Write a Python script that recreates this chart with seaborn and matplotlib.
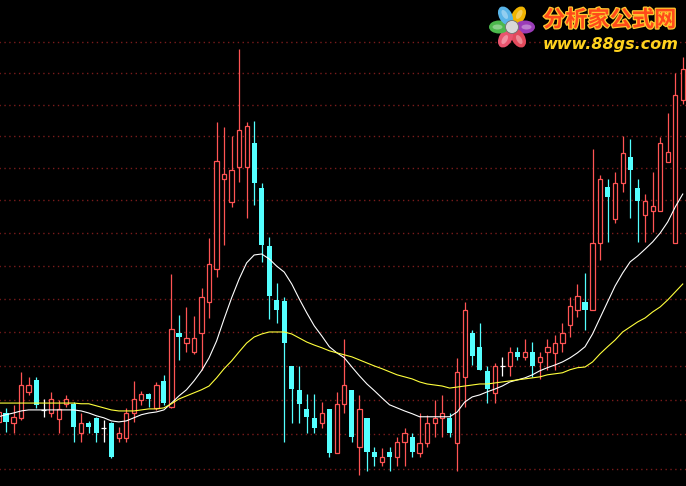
import numpy as np
import pandas as pd
import matplotlib
matplotlib.use("Agg")
import matplotlib.pyplot as plt
import matplotlib.patheffects as pe
from matplotlib.patches import Ellipse, Circle
import seaborn as sns

# daily bars (open / high / low / close)
opens = [109.36, 109.62, 109.33, 109.48, 110.24, 110.59, 109.71, 109.62, 109.45, 109.89,
         109.89, 109.04, 109.33, 109.48, 109.19, 109.33, 108.90, 108.90, 109.62, 110.00,
         110.18, 109.77, 110.56, 109.80, 111.98, 111.68, 111.42, 111.98, 112.91, 113.90,
         116.67, 115.95, 117.04, 117.04, 117.79, 116.39, 114.61, 112.97, 112.94, 111.00,
         110.30, 109.74, 109.48, 109.33, 109.74, 108.46, 109.89, 110.30, 108.64, 109.48,
         108.49, 108.20, 108.49, 108.35, 108.78, 108.93, 108.46, 108.75, 109.33, 109.48,
         109.48, 108.75, 110.68, 111.98, 111.57, 110.86, 110.21, 111.00, 111.00, 111.42,
         111.27, 111.42, 111.12, 111.42, 111.39, 111.68, 112.22, 112.67, 112.91, 112.67,
         114.70, 116.42, 115.43, 116.54, 117.35, 116.39, 115.56, 115.68, 115.68, 117.20,
         114.70, 119.15]
highs = [109.71, 109.77, 109.86, 110.83, 110.68, 110.68, 110.03, 110.24, 110.00, 110.15,
         109.94, 109.62, 109.39, 109.51, 109.42, 109.36, 109.22, 109.77, 110.56, 110.27,
         110.21, 110.53, 110.74, 113.75, 112.52, 112.76, 112.49, 113.33, 114.85, 118.45,
         118.29, 118.01, 120.77, 118.45, 118.48, 116.54, 114.88, 113.48, 113.06, 111.00,
         111.00, 110.18, 110.18, 109.94, 109.74, 110.24, 111.80, 110.30, 110.15, 109.48,
         108.64, 108.61, 108.64, 108.93, 109.19, 109.04, 109.62, 109.57, 110.00, 110.15,
         109.62, 111.24, 112.91, 112.07, 112.28, 111.00, 111.09, 111.27, 111.57, 111.57,
         111.80, 111.71, 111.42, 111.80, 111.92, 112.28, 113.06, 113.45, 113.78, 117.60,
         116.79, 116.67, 116.89, 118.01, 117.91, 116.67, 116.20, 116.89, 117.97, 118.74,
         120.00, 120.52]
lows = [109.28, 109.07, 109.04, 109.42, 110.15, 109.77, 109.51, 109.51, 109.04, 109.80,
        108.78, 108.78, 109.04, 108.78, 108.78, 108.32, 108.78, 108.78, 109.36, 109.86,
        109.80, 109.71, 109.86, 109.77, 111.18, 111.42, 111.36, 110.89, 112.43, 113.66,
        114.64, 115.80, 116.58, 115.46, 115.86, 114.12, 112.40, 112.28, 108.78, 109.33,
        109.33, 109.04, 109.04, 109.19, 108.35, 108.46, 109.62, 108.78, 107.83, 107.94,
        108.09, 108.09, 107.94, 108.09, 108.09, 108.35, 108.35, 108.64, 108.93, 108.93,
        108.93, 107.94, 109.80, 111.03, 110.89, 109.91, 109.91, 110.71, 110.71, 111.18,
        111.18, 110.68, 110.62, 110.89, 110.89, 111.42, 111.86, 112.46, 112.07, 112.67,
        114.18, 114.73, 115.31, 116.26, 115.46, 114.73, 114.73, 115.04, 115.68, 117.20,
        114.70, 119.02]
closes = [109.65, 109.36, 109.51, 110.44, 110.44, 109.86, 109.71, 110.03, 109.74, 110.03,
          109.22, 109.33, 109.22, 109.04, 109.19, 108.35, 109.04, 109.62, 110.03, 110.18,
          110.03, 110.44, 109.91, 112.10, 111.86, 111.83, 111.83, 113.06, 114.06, 117.23,
          116.82, 116.95, 118.20, 118.32, 116.54, 114.64, 113.09, 112.67, 111.68, 110.32,
          109.89, 109.51, 109.19, 109.62, 108.46, 109.89, 110.44, 108.93, 109.74, 108.49,
          108.35, 108.35, 108.35, 108.78, 109.04, 108.49, 108.75, 109.33, 109.48, 109.62,
          109.04, 110.83, 112.67, 111.30, 110.89, 110.32, 111.00, 111.00, 111.42, 111.27,
          111.42, 111.00, 111.27, 111.57, 111.68, 111.98, 112.79, 113.09, 112.67, 114.70,
          116.67, 116.11, 116.54, 117.48, 116.95, 115.98, 115.98, 115.83, 117.79, 117.51,
          119.31, 120.13]

# the two moving-average lines, read at every bar
ma_short = [109.51, 109.57, 109.62, 109.68, 109.71, 109.71, 109.71, 109.71, 109.71, 109.71,
            109.71, 109.68, 109.62, 109.54, 109.48, 109.39, 109.36, 109.39, 109.48, 109.57,
            109.62, 109.65, 109.71, 109.91, 110.12, 110.30, 110.56, 110.86, 111.24, 111.74,
            112.40, 113.03, 113.60, 114.09, 114.33, 114.36, 114.21, 113.99, 113.81, 113.45,
            113.00, 112.58, 112.19, 111.89, 111.57, 111.39, 111.24, 110.97, 110.71, 110.47,
            110.27, 110.06, 109.86, 109.77, 109.68, 109.60, 109.51, 109.51, 109.51, 109.51,
            109.51, 109.65, 109.94, 110.09, 110.15, 110.24, 110.32, 110.41, 110.53, 110.59,
            110.65, 110.74, 110.86, 110.95, 111.03, 111.12, 111.24, 111.39, 111.57, 111.95,
            112.43, 112.91, 113.39, 113.78, 114.12, 114.30, 114.51, 114.73, 115.00, 115.34,
            115.80, 116.20]
ma_long = [109.91, 109.91, 109.91, 109.91, 109.91, 109.91, 109.91, 109.91, 109.91, 109.91,
           109.91, 109.89, 109.89, 109.83, 109.77, 109.71, 109.68, 109.68, 109.68, 109.71,
           109.74, 109.74, 109.77, 109.89, 110.03, 110.12, 110.21, 110.30, 110.41, 110.65,
           110.92, 111.15, 111.42, 111.68, 111.86, 111.95, 112.01, 112.01, 112.01, 111.95,
           111.83, 111.71, 111.62, 111.54, 111.45, 111.39, 111.33, 111.27, 111.18, 111.09,
           111.00, 110.92, 110.83, 110.74, 110.68, 110.62, 110.53, 110.47, 110.44, 110.41,
           110.35, 110.38, 110.41, 110.44, 110.47, 110.47, 110.50, 110.53, 110.56, 110.59,
           110.62, 110.65, 110.68, 110.74, 110.77, 110.80, 110.89, 110.95, 110.97, 111.12,
           111.36, 111.57, 111.77, 112.01, 112.16, 112.31, 112.43, 112.61, 112.76, 112.97,
           113.21, 113.45]

grid_levels = list(range(108, 122))

UP = "#ff5454"
DOWN = "#54ffff"

df = pd.DataFrame({"open": opens, "high": highs, "low": lows, "close": closes})
df["idx"] = np.arange(len(df))
ma = pd.DataFrame({"idx": np.arange(len(ma_short)), "short": ma_short, "long": ma_long})

fig = plt.figure(figsize=(6.86, 4.86), dpi=100, facecolor="black")
ax = fig.add_axes([0, 0, 1, 1])
ax.set_facecolor("black")
ax.set_yscale("log")

ax.hlines(grid_levels, -5, 100, colors="#7a1c1c", linestyles=(0, (1, 2.5)), linewidth=1.0, zorder=1)

up = df[df.close > df.open]
down = df[df.close < df.open]
flat = df[df.close == df.open]

# wicks
ax.vlines(up.idx, up.low, up.high, color=UP, linewidth=0.9, zorder=2)
ax.vlines(down.idx, down.low, down.high, color=DOWN, linewidth=0.9, zorder=2)
ax.vlines(flat.idx, flat.low, flat.high, color="white", linewidth=0.9, zorder=2)

# bodies: hollow red up, solid cyan down
ax.bar(up.idx, up.close - up.open, bottom=up.open, width=0.56,
       facecolor="black", edgecolor=UP, linewidth=0.9, zorder=3)
ax.bar(down.idx, down.open - down.close, bottom=down.close, width=0.68,
       color=DOWN, linewidth=0, zorder=3)
ax.hlines(flat.close, flat.idx - 0.34, flat.idx + 0.34, color="white", linewidth=0.9, zorder=3)

sns.lineplot(data=ma, x="idx", y="short", color="white", linewidth=0.8, ax=ax, zorder=4)
sns.lineplot(data=ma, x="idx", y="long", color="#ffff3c", linewidth=0.8, ax=ax, zorder=4)

ax.set_xlim(0.2, 91.43)
ax.set_ylim(107.51, 122.36)
ax.set_xticks([])
ax.set_yticks([])
ax.minorticks_off()
ax.set_xlabel("")
ax.set_ylabel("")
for s in ax.spines.values():
    s.set_visible(False)

# site logo, top right
logo = fig.add_axes([482 / 686, 1 - 56 / 486, 60 / 686, 56 / 486])
logo.set_xlim(0, 60)
logo.set_ylim(56, 0)
logo.set_aspect("equal")
logo.axis("off")
cx, cy = 30, 27
petals = ["#f0b400", "#9a3cb8", "#e24a5c", "#e8546e", "#4cb84c", "#58b4e8"]
for k, c in enumerate(petals):
    ang = np.deg2rad(-60 + 60 * k)
    px, py = cx + 13 * np.cos(ang), cy + 13 * np.sin(ang)
    logo.add_patch(Ellipse((px, py), 20, 13, angle=np.rad2deg(ang),
                           facecolor=c, edgecolor="none"))
    logo.add_patch(Ellipse((px + 1.5 * np.cos(ang), py + 1.5 * np.sin(ang)), 10, 5,
                           angle=np.rad2deg(ang), facecolor="white", alpha=0.35, edgecolor="none"))
logo.add_patch(Circle((cx, cy), 6.5, facecolor="#d8d8d8", edgecolor="#707070", linewidth=0.6))

fig.text(543 / 686, 1 - 20 / 486, "分析家公式网", color="#ff4a1a", fontsize=16, fontweight="bold",
         family=["Noto Sans CJK SC", "DejaVu Sans"], ha="left", va="center",
         path_effects=[pe.withStroke(linewidth=1.8, foreground="#ffc830")])
fig.text(543 / 686, 1 - 44 / 486, "www.88gs.com", color="#ffd21e", fontsize=11.5, fontweight="bold",
         style="italic", family="DejaVu Sans", ha="left", va="center")

fig.savefig("out.png", dpi=100, facecolor="black")
